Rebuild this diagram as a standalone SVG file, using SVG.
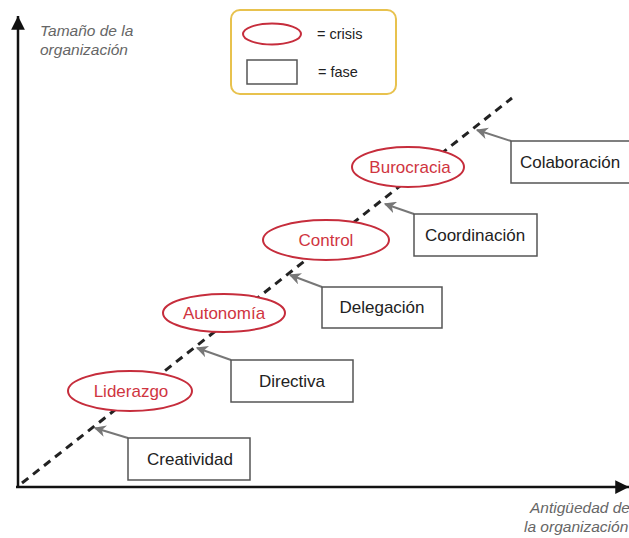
<svg xmlns="http://www.w3.org/2000/svg" width="629" height="538" viewBox="0 0 629 538">
<defs>
<marker id="ax" viewBox="0 0 10 10" refX="10" refY="5" markerWidth="6" markerHeight="5.5" orient="auto" markerUnits="strokeWidth"><path d="M0,0 L10,5 L0,10 Z" fill="#111"/></marker>
<marker id="ga" viewBox="0 0 10 10" refX="9" refY="5" markerWidth="6" markerHeight="6" orient="auto" markerUnits="strokeWidth"><path d="M0,0 L10,5 L0,10 L3,5 Z" fill="#777"/></marker>
<style>
.axl{font-family:"Liberation Sans",Arial,sans-serif;font-style:italic;font-size:15.5px;fill:#666}
.crisis{fill:#fff;stroke:#c62d3c;stroke-width:2}
.ct{font-family:"Liberation Sans",Arial,sans-serif;font-size:17px;fill:#d0353f;text-anchor:middle}
.fase{fill:#fff;stroke:#555;stroke-width:1.5}
.ft{font-family:"Liberation Sans",Arial,sans-serif;font-size:17px;fill:#222;text-anchor:middle}
.lt{font-family:"Liberation Sans",Arial,sans-serif;font-size:14.5px;fill:#222}
.ptr{stroke:#777;stroke-width:2;fill:none;marker-end:url(#ga)}
</style>
</defs>
<rect width="629" height="538" fill="#fff"/>
<g id="connectors">
<line x1="18" y1="487" x2="18" y2="16" stroke="#111" stroke-width="2.5" marker-end="url(#ax)"/>
<line x1="16" y1="487" x2="629" y2="487" stroke="#111" stroke-width="2.5" marker-end="url(#ax)"/>
<line x1="22" y1="483" x2="512" y2="98" stroke="#222" stroke-width="3" stroke-dasharray="8 6"/>
<line class="ptr" x1="128" y1="438" x2="95" y2="428"/>
<line class="ptr" x1="231" y1="360" x2="197" y2="348"/>
<line class="ptr" x1="322" y1="287" x2="290" y2="275"/>
<line class="ptr" x1="414" y1="214" x2="385" y2="204"/>
<line class="ptr" x1="511" y1="141" x2="477" y2="130"/>
</g>
<g id="axis-labels">
<text class="axl" x="40" y="36">Tamaño de la</text>
<text class="axl" x="40" y="55">organización</text>
<text class="axl" x="530" y="513">Antigüedad de</text>
<text class="axl" x="524" y="532">la organización</text>
</g>
<g id="legend">
<rect x="231" y="10" width="165" height="84" rx="9" fill="#fff" stroke="#e8c24e" stroke-width="2"/>
<ellipse cx="272" cy="34" rx="29" ry="10.5" class="crisis"/>
<text class="lt" x="317" y="39">= crisis</text>
<rect x="247" y="60" width="50" height="24" class="fase"/>
<text class="lt" x="318" y="77">= fase</text>
</g>
<g id="liderazgo"><ellipse cx="130" cy="391" rx="62" ry="20" class="crisis"/><text class="ct" x="131" y="397">Liderazgo</text></g>
<g id="autonomia"><ellipse cx="224" cy="313" rx="61" ry="19" class="crisis"/><text class="ct" x="224" y="319">Autonomía</text></g>
<g id="control"><ellipse cx="326" cy="240" rx="63" ry="20" class="crisis"/><text class="ct" x="326" y="246">Control</text></g>
<g id="burocracia"><ellipse cx="408" cy="167" rx="56" ry="20" class="crisis"/><text class="ct" x="410" y="173">Burocracia</text></g>
<g id="creatividad"><rect x="128" y="438" width="122" height="42" class="fase"/><text class="ft" x="190" y="465">Creatividad</text></g>
<g id="directiva"><rect x="231" y="360" width="122" height="42" class="fase"/><text class="ft" x="292" y="387">Directiva</text></g>
<g id="delegacion"><rect x="322" y="287" width="120" height="41" class="fase"/><text class="ft" x="382" y="313">Delegación</text></g>
<g id="coordinacion"><rect x="414" y="214" width="123" height="42" class="fase"/><text class="ft" x="475" y="241">Coordinación</text></g>
<g id="colaboracion"><rect x="511" y="141" width="125" height="42" class="fase"/><text class="ft" x="570" y="168">Colaboración</text></g>
</svg>
